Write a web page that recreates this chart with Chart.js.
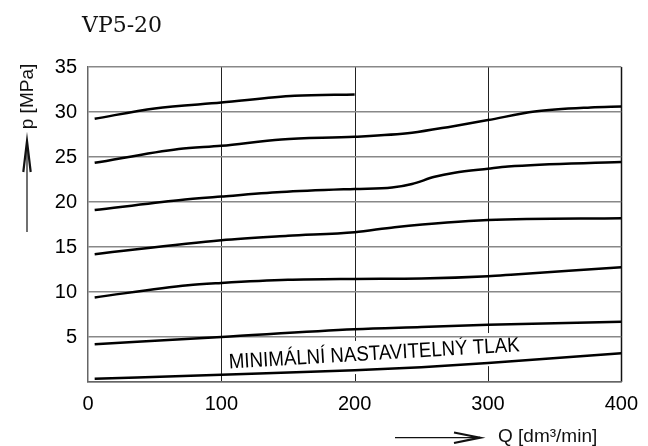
<!DOCTYPE html>
<html>
<head>
<meta charset="utf-8">
<script src="https://cdn.jsdelivr.net/npm/chart.js@4.4.1/dist/chart.umd.min.js"></script>
<style>
html, body { margin: 0; padding: 0; background: #fff; }
#wrap { width: 648px; height: 446px; }
</style>
</head>
<body>
<div id="wrap"><canvas id="chart" width="648" height="446"></canvas></div>
<script>
const title = 'VP5-20';
const yTitle = 'p [MPa]';
const xTitle = 'Q [dm³/min]';
const minLabel = 'MINIMÁLNÍ NASTAVITELNÝ TLAK';

const xTicks = [0, 100, 200, 300, 400];
const yTicks = [0, 5, 10, 15, 20, 25, 30, 35];
const xGrid = [100, 200, 300, 400];

// Q [dm3/min] / p [MPa] for each curve
const q30 = [5, 50, 100, 155, 200];
const p30 = [29.25, 30.4, 31.05, 31.8, 31.95];

const q25 = [5, 68, 100, 145, 200, 243, 273, 300, 335, 377, 400];
const p25 = [24.35, 25.9, 26.25, 26.95, 27.25, 27.7, 28.4, 29.1, 30.05, 30.5, 30.6];

const q20 = [5, 68, 100, 145, 200, 228, 243, 260, 275, 300, 315, 400];
const p20 = [19.1, 20.2, 20.6, 21.1, 21.45, 21.6, 22.0, 22.8, 23.25, 23.7, 23.95, 24.45];

const q15 = [5, 100, 150, 200, 230, 300, 400];
const p15 = [14.2, 15.75, 16.25, 16.65, 17.2, 18.0, 18.2];

const q10 = [5, 75, 100, 150, 200, 250, 300, 320, 400];
const p10 = [9.4, 10.75, 11.0, 11.35, 11.45, 11.5, 11.75, 11.95, 12.75];

const q5 = [5, 100, 200, 250, 300, 400];
const p5 = [4.2, 5.0, 5.85, 6.1, 6.35, 6.7];

const qMin = [5, 100, 200, 250, 300, 400];
const pMin = [0.35, 0.8, 1.3, 1.65, 2.1, 3.2];

const minLabelAt = [106, 1.5];

const FONT = "'Liberation Sans', Arial, sans-serif";

const curves = [
    ['30', q30, p30], ['25', q25, p25], ['20', q20, p20], ['15', q15, p15],
    ['10', q10, p10], ['5', q5, p5], ['min', qMin, pMin]
];

const datasets = curves.map(([name, q, p]) => ({
    label: name,
    data: q.map((v, i) => ({ x: v, y: p[i] })),
    borderColor: '#000',
    borderWidth: 2.5,
    pointRadius: 0,
    fill: false,
    cubicInterpolationMode: 'monotone'
}));

const decor = {
    id: 'decor',
    beforeDraw(chart) {
        const { ctx, chartArea: a, scales: { x, y } } = chart;
        ctx.save();
        // vertical grid lines (drawn under the label box)
        xGrid.forEach(v => {
            const px = Math.round(x.getPixelForValue(v)) + 0.5;
            ctx.strokeStyle = v === 400 ? '#111' : '#222';
            ctx.lineWidth = v === 400 ? 1.5 : 1;
            ctx.beginPath();
            ctx.moveTo(px, a.top);
            ctx.lineTo(px, a.bottom);
            ctx.stroke();
        });
        // slanted label with white box
        const lx = x.getPixelForValue(minLabelAt[0]);
        const ly = y.getPixelForValue(minLabelAt[1]);
        ctx.translate(lx, ly);
        ctx.rotate(-3.4 * Math.PI / 180);
        ctx.font = '21px ' + FONT;
        const w = ctx.measureText(minLabel).width;
        ctx.fillStyle = '#fff';
        ctx.fillRect(-4, -20, 299, 33);
        ctx.scale(291 / w, 1);
        ctx.fillStyle = '#000';
        ctx.textBaseline = 'alphabetic';
        ctx.fillText(minLabel, 0, 0);
        ctx.restore();
    },
    afterDraw(chart) {
        const { ctx } = chart;
        ctx.save();
        ctx.fillStyle = '#111';
        ctx.strokeStyle = '#111';

        ctx.font = "22px 'DejaVu Serif', serif";
        ctx.textBaseline = 'middle';
        ctx.textAlign = 'left';
        ctx.fillText(title, 82, 26);

        ctx.font = '19px ' + FONT;
        ctx.fillText(xTitle, 498, 437);

        ctx.save();
        ctx.translate(28, 96.5);
        ctx.rotate(-Math.PI / 2);
        ctx.textAlign = 'center';
        ctx.fillText(yTitle, 0, 0);
        ctx.restore();

        // y arrow
        ctx.lineWidth = 1.2;
        ctx.beginPath();
        ctx.moveTo(27, 232);
        ctx.lineTo(27, 146);
        ctx.stroke();
        ctx.lineWidth = 2.2;
        ctx.beginPath();
        ctx.moveTo(23.3, 172);
        ctx.lineTo(27, 141);
        ctx.lineTo(30.7, 172);
        ctx.stroke();

        // x arrow
        ctx.lineWidth = 1.2;
        ctx.beginPath();
        ctx.moveTo(395, 437.7);
        ctx.lineTo(475, 437.7);
        ctx.stroke();
        ctx.lineWidth = 2.2;
        ctx.beginPath();
        ctx.moveTo(454, 432.5);
        ctx.lineTo(480, 437.7);
        ctx.lineTo(454, 443);
        ctx.stroke();
        ctx.restore();
    }
};

const chart = new Chart(document.getElementById('chart'), {
    type: 'line',
    data: { datasets },
    options: {
        responsive: false,
        animation: false,
        layout: { padding: { left: 0, top: 67, right: 20, bottom: 0 } },
        plugins: { legend: { display: false }, tooltip: { enabled: false } },
        scales: {
            x: {
                type: 'linear',
                min: xTicks[0],
                max: xTicks[xTicks.length - 1],
                afterBuildTicks: s => { s.ticks = xTicks.map(v => ({ value: v })); },
                ticks: { padding: 10, color: '#000', font: { size: 20, family: FONT } },
                grid: { display: false, drawTicks: false },
                border: { color: '#666', width: 1.5 },
                afterFit: s => { s.height = 64; }
            },
            y: {
                type: 'linear',
                min: yTicks[0],
                max: yTicks[yTicks.length - 1],
                afterBuildTicks: s => { s.ticks = yTicks.map(v => ({ value: v })); },
                ticks: {
                    padding: 11,
                    color: '#000',
                    font: { size: 20, family: FONT },
                    callback: v => v === 0 ? '' : v
                },
                grid: { color: '#888', lineWidth: 1.5, drawTicks: false },
                border: { color: '#666', width: 1.5 },
                afterFit: s => { s.width = 88; }
            }
        }
    },
    plugins: [decor]
});
</script>
</body>
</html>
